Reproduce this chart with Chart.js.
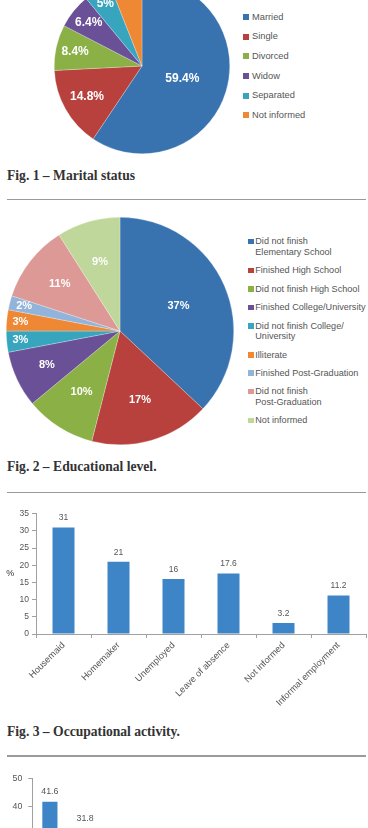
<!DOCTYPE html>
<html>
<head>
<meta charset="utf-8">
<script src="https://cdn.jsdelivr.net/npm/chart.js@4/dist/chart.umd.min.js"></script>
<style>
  html, body { margin:0; padding:0; width:368px; height:828px; overflow:hidden; background:#fff; }
  canvas { position:absolute; display:block; }
  .caption { position:absolute; left:7px; font-family:"Liberation Serif", serif; font-weight:bold; font-size:13.6px; line-height:13.6px; color:#333; white-space:nowrap; }
  .rule { position:absolute; left:7px; width:359px; height:1.5px; background:#9a9a9a; }
  .legend { position:absolute; font-family:"Liberation Sans", Arial, sans-serif; color:#555; }
  .legend .item { position:relative; white-space:pre-line; }
  .legend .sw { position:absolute; left:0; }
</style>
</head>
<body>
<canvas id="pie1" width="176" height="176" style="left:54px;top:-22px"></canvas>
<div id="leg1" class="legend" style="left:243px;top:11.5px"></div>
<div class="caption" style="top:169.1px">Fig. 1 – Marital status</div>
<div class="rule" style="top:198.5px"></div>

<canvas id="pie2" width="228" height="228" style="left:6px;top:217px"></canvas>
<div id="leg2" class="legend" style="left:248px;top:236.4px"></div>
<div class="caption" style="top:459.8px">Fig. 2 – Educational level.</div>
<div class="rule" style="top:491.5px"></div>

<canvas id="bar3" width="368" height="214" style="left:0;top:500px"></canvas>
<div class="caption" style="top:724.8px">Fig. 3 – Occupational activity.</div>
<div class="rule" style="top:755.3px"></div>

<canvas id="bar4" width="110" height="220" style="left:0;top:765px"></canvas>

<script>
// ---------- DATA ----------
const MARITAL_LABELS = ['Married', 'Single', 'Divorced', 'Widow', 'Separated', 'Not informed'];
const MARITAL_VALUES = [59.4, 14.8, 8.4, 6.4, 5, 6];

const EDU_LABELS = ['Did not finish\nElementary School', 'Finished High School', 'Did not finish High School',
  'Finished College/University', 'Did not finish College/\nUniversity', 'Illiterate',
  'Finished Post-Graduation', 'Did not finish\nPost-Graduation', 'Not informed'];
const EDU_VALUES = [37, 17, 10, 8, 3, 3, 2, 11, 9];

const OCC_LABELS = ['Housemaid', 'Homemaker', 'Unemployed', 'Leave of absence', 'Not informed', 'Informal employment'];
const OCC_VALUES = [31, 21, 16, 17.6, 3.2, 11.2];
const OCC_TICKS = [0, 5, 10, 15, 20, 25, 30, 35];

const FIG4_LABELS = ['', ''];
const FIG4_VALUES = [41.6, 31.8];
const FIG4_TICKS = [0, 10, 20, 30, 40, 50];

// ---------- STYLE ----------
const MARITAL_COLORS = ['#3873b0', '#b9413d', '#8bb046', '#6a5097', '#38a5bf', '#ef8834'];
const EDU_COLORS = ['#3873b0', '#b9413d', '#8bb046', '#6a5097', '#38a5bf', '#ef8834', '#93b4da', '#dc9996', '#bfd79a'];
const BAR_COLOR = '#3d85c7';
const PIE1_LABEL_R = [0.48, 0.72, 0.78, 0.78, 0.82, 0.82];
const PIE2_LABEL_R = [0.56, 0.63, 0.63, 0.71, 0.88, 0.88, 0.87, 0.67, 0.63];
const SANS = '"Liberation Sans", Arial, sans-serif';

Chart.defaults.font.family = SANS;

const pieLabels = {
  id: 'pieLabels',
  afterDatasetsDraw(chart, args, opts) {
    const ctx = chart.ctx;
    const meta = chart.getDatasetMeta(0);
    const vals = chart.data.datasets[0].data;
    ctx.save();
    ctx.font = 'bold ' + opts.size + 'px ' + SANS;
    ctx.fillStyle = '#fff';
    ctx.textAlign = 'center';
    ctx.textBaseline = 'middle';
    meta.data.forEach((arc, i) => {
      const p = arc.getProps(['x', 'y', 'startAngle', 'endAngle', 'outerRadius'], true);
      const mid = (p.startAngle + p.endAngle) / 2;
      const r = p.outerRadius * opts.radii[i];
      ctx.fillText(vals[i] + '%', p.x + Math.cos(mid) * r, p.y + Math.sin(mid) * r);
    });
    ctx.restore();
  }
};

const barLabels = {
  id: 'barLabels',
  afterDatasetsDraw(chart, args, opts) {
    const ctx = chart.ctx;
    const meta = chart.getDatasetMeta(0);
    const vals = chart.data.datasets[0].data;
    ctx.save();
    ctx.font = opts.size + 'px ' + SANS;
    ctx.fillStyle = '#555';
    ctx.textAlign = 'center';
    ctx.textBaseline = 'middle';
    meta.data.forEach((bar, i) => {
      if (vals[i] == null) return;
      ctx.fillText(String(vals[i]), bar.x, bar.y - opts.gap);
    });
    if (opts.unit) {
      const y = chart.scales.y;
      ctx.font = '9px ' + SANS;
      ctx.fillStyle = '#333';
      ctx.fillText(opts.unit, 10.3, (y.top + y.bottom) / 2 - 0.5);
    }
    ctx.restore();
  }
};

function pie(id, labels, values, colors, radii, size) {
  new Chart(document.getElementById(id), {
    type: 'pie',
    data: { labels: labels, datasets: [{ data: values, backgroundColor: colors, borderColor: 'rgba(255,255,255,0.5)', borderWidth: 0.5 }] },
    options: {
      responsive: false, animation: false,
      layout: { padding: 0 },
      plugins: { legend: { display: false }, tooltip: { enabled: false }, pieLabels: { radii: radii, size: size } }
    },
    plugins: [pieLabels]
  });
}

function legend(id, labels, colors, lh, gap, sw, textX, fontSize) {
  const el = document.getElementById(id);
  labels.forEach((lab, i) => {
    const it = document.createElement('div');
    it.className = 'item';
    it.style.lineHeight = lh + 'px';
    it.style.fontSize = fontSize + 'px';
    it.style.paddingLeft = textX + 'px';
    it.style.marginBottom = gap + 'px';
    it.textContent = lab;
    const s = document.createElement('span');
    s.className = 'sw';
    s.style.width = sw + 'px';
    s.style.height = sw + 'px';
    s.style.top = ((lh - sw) / 2) + 'px';
    s.style.background = colors[i];
    it.appendChild(s);
    el.appendChild(it);
  });
}

pie('pie1', MARITAL_LABELS, MARITAL_VALUES, MARITAL_COLORS, PIE1_LABEL_R, 12);
legend('leg1', MARITAL_LABELS, MARITAL_COLORS, 11, 8.7, 6, 9, 9.3);
pie('pie2', EDU_LABELS, EDU_VALUES, EDU_COLORS, PIE2_LABEL_R, 11);
legend('leg2', EDU_LABELS, EDU_COLORS, 10.6, 7.8, 5.5, 7.3, 9.1);

function bar(id, labels, values, ticks, cfg) {
  new Chart(document.getElementById(id), {
    type: 'bar',
    data: { labels: labels, datasets: [{ data: values, backgroundColor: BAR_COLOR, barPercentage: cfg.barPct, categoryPercentage: 1 }] },
    options: {
      responsive: false, animation: false,
      layout: { padding: { top: cfg.padTop, right: cfg.padRight, left: 0, bottom: 0 } },
      plugins: { legend: { display: false }, tooltip: { enabled: false }, barLabels: { size: cfg.labelSize, gap: cfg.gap, unit: cfg.unit } },
      scales: {
        x: {
          grid: { drawOnChartArea: false, offset: true, tickLength: 4, color: '#a0a0a0' },
          border: { color: '#a0a0a0' },
          ticks: { minRotation: 45, maxRotation: 45, autoSkip: false, font: { size: 9.2 }, color: '#555', padding: 2 },
          afterFit(s) { s.height = cfg.xHeight; }
        },
        y: {
          min: ticks[0], max: ticks[ticks.length - 1],
          afterBuildTicks(s) { s.ticks = ticks.map(v => ({ value: v })); },
          ticks: { font: { size: cfg.tickSize }, color: '#555', padding: cfg.tickPad },
          grid: { drawOnChartArea: false, tickLength: 4, color: '#a0a0a0' },
          border: { color: '#a0a0a0' },
          afterFit(s) { s.width = cfg.yWidth; }
        }
      }
    },
    plugins: [barLabels]
  });
}

bar('bar3', OCC_LABELS, OCC_VALUES, OCC_TICKS, {
  barPct: 0.4, padTop: 13.7, padRight: 2, labelSize: 8.5, gap: 9.4, unit: '%',
  xHeight: 80, tickSize: 8.5, tickPad: 3, yWidth: 36
});
bar('bar4', FIG4_LABELS, FIG4_VALUES, FIG4_TICKS, {
  barPct: 0.43, padTop: 13.3, padRight: 7.3, labelSize: 8.8, gap: 10, unit: '',
  xHeight: 67.7, tickSize: 8.8, tickPad: 6, yWidth: 32.3
});
</script>
</body>
</html>
